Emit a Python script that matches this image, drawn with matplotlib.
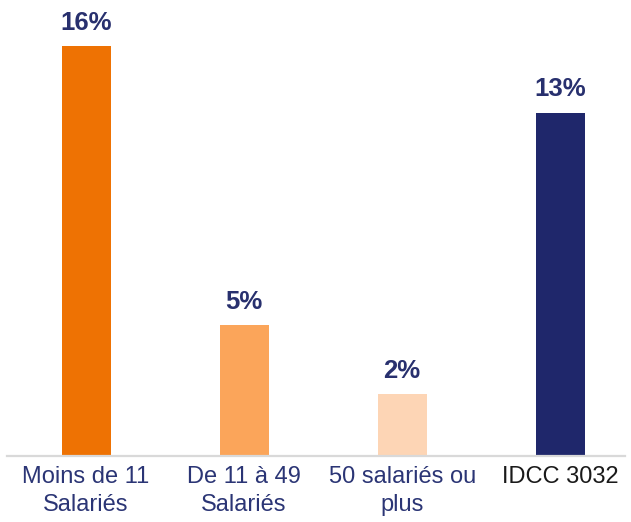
import matplotlib
matplotlib.use("Agg")
import matplotlib.pyplot as plt

categories = ["Moins de 11\nSalariés", "De 11 à 49\nSalariés", "50 salariés ou\nplus", "IDCC 3032"]
values = [16.0, 5.1, 2.4, 13.4]
bar_colors = ["#EE7203", "#FBA55A", "#FDD5B5", "#1F276B"]
label_colors = ["#2B3575", "#2B3575", "#2B3575", "#1A1A1A"]

plt.rcParams["font.family"] = ["Liberation Sans", "DejaVu Sans"]

fig = plt.figure(figsize=(6.31, 5.22), dpi=100)
ax = fig.add_axes([7 / 631, 66 / 522, 618 / 631, 446 / 522])

x = list(range(len(categories)))
bars = ax.bar(x, values, width=0.31, color=bar_colors, zorder=2)

for b, v in zip(bars, values):
    ax.annotate(f"{v:.0f}%", (b.get_x() + b.get_width() / 2, v),
                xytext=(0, 8), textcoords="offset points",
                ha="center", va="bottom", fontsize=18.5, fontweight="bold",
                color="#28306E")

ax.set_xlim(-0.5, 3.41)
ax.set_ylim(0, 17.4)
ax.set_xticks(x)
ax.set_xticklabels(categories, fontsize=17, linespacing=1.35)
for t, c in zip(ax.get_xticklabels(), label_colors):
    t.set_color(c)
ax.tick_params(axis="x", length=0, pad=7)
ax.set_yticks([])
for s in ["top", "right", "left"]:
    ax.spines[s].set_visible(False)
ax.spines["bottom"].set_color("#D9D9D9")
ax.spines["bottom"].set_linewidth(1.6)

fig.savefig("out.png", dpi=100)
